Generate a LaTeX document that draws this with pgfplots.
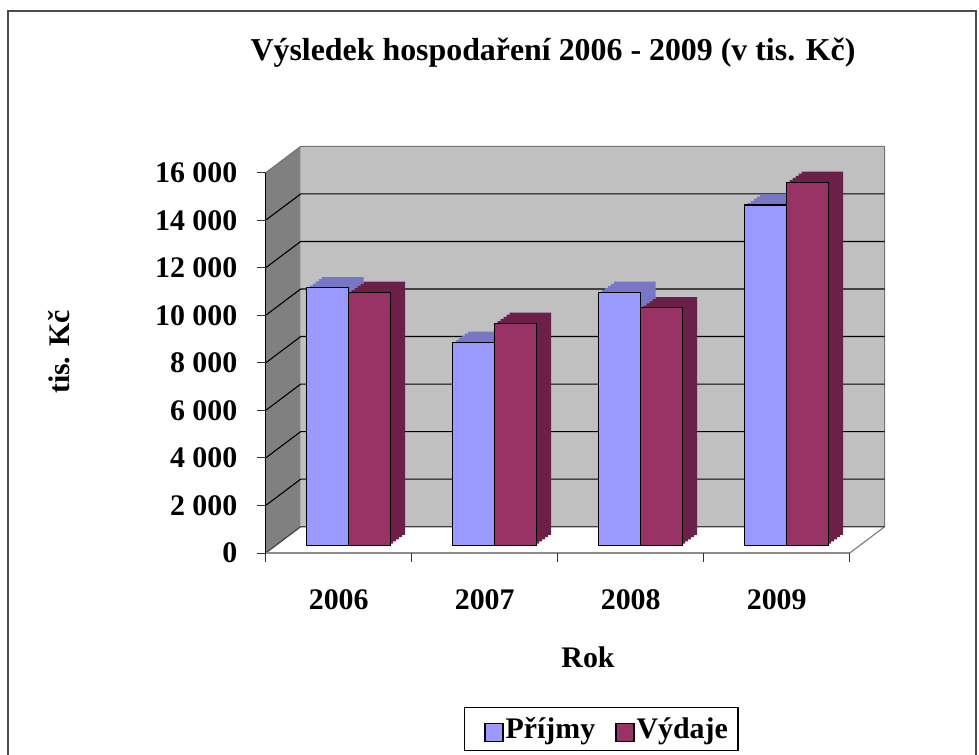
\documentclass[border=0pt]{standalone}
\usepackage{pgfplots}
\usepackage{pgfplotstable}
\pgfplotsset{compat=1.18}
\usepackage{fontspec}
\setmainfont{Liberation Serif}
\definecolor{prij}{HTML}{9999FF}
\definecolor{prijtop}{HTML}{7777C6}
\definecolor{vyd}{HTML}{993366}
\definecolor{vydtop}{HTML}{6C2047}
\definecolor{wall}{HTML}{C0C0C0}
\definecolor{sidewall}{HTML}{808080}
\tikzset{bk/.style={shift={(25.2bp,19bp)}}, fr/.style={shift={(-9.8bp,-7.3bp)}}}
\pgfplotstableread{
x P V
0 10850 10660
1 8560 9360
2 10660 10010
3 14330 15290
}\data
\begin{document}
\begin{tikzpicture}[x=1bp,y=1bp]
\useasboundingbox (0,0) rectangle (979,755);
\draw[line width=1.2bp, black!70] (8,-20) rectangle (976,744);
\node[anchor=base, font=\fontsize{32}{36}\selectfont\bfseries] at (553,694) {Výsledek hospodaření 2006 - 2009 (v tis. Kč)};
\node[anchor=base, font=\fontsize{30}{34}\selectfont\bfseries] at (588,87) {Rok};
\node[anchor=base, rotate=90, font=\fontsize{30}{34}\selectfont\bfseries] at (69,403) {tis. Kč};
\begin{scope}[shift={(275.5bp,209.3bp)}]
\begin{axis}[
  at={(0bp,0bp)}, anchor=south west,
  scale only axis, width=584bp, height=380.3bp,
  xmin=-0.5, xmax=3.5, ymin=0, ymax=16000,
  clip=false,
  axis line style={draw=none},
  major tick length=0pt,
  xtick={0,1,2,3}, xticklabels={2006,2007,2008,2009},
  ytick={0,2000,4000,6000,8000,10000,12000,14000,16000},
  scaled y ticks=false,
  /pgf/number format/1000 sep={\ },
  /pgf/number format/assume math mode=true,
  tick label style={font=\fontsize{30}{32}\selectfont\bfseries, inner sep=0pt},
  yticklabel style={anchor=east, xshift=-38bp, yshift=-7.3bp},
  xticklabel style={anchor=north, xshift=-9.8bp, yshift=-44bp},
  legend style={at={(0.5574,-0.4233)}, anchor=north, legend columns=2, draw=black, line width=1.3bp,
    font=\fontsize{30}{33}\selectfont\bfseries, inner xsep=8bp, inner ysep=8bp,
    /tikz/every even column/.append style={column sep=6bp}},
]
% side wall
\fill[sidewall] ([fr]axis cs:-0.5,0) -- ([bk]axis cs:-0.5,0) -- ([bk]axis cs:-0.5,16000) -- ([fr]axis cs:-0.5,16000) -- cycle;
% back wall
\fill[wall] ([bk]axis cs:-0.5,0) rectangle ([bk]axis cs:3.5,16000);
\draw[black!55, line width=1bp] ([fr]axis cs:-0.5,16000) -- ([bk]axis cs:-0.5,16000) -- ([bk]axis cs:3.5,16000) -- ([bk]axis cs:3.5,0);
% floor
\fill[white] ([fr]axis cs:-0.5,0) -- ([fr]axis cs:3.5,0) -- ([bk]axis cs:3.5,0) -- ([bk]axis cs:-0.5,0) -- cycle;
\draw[black!50, line width=1.2bp] ([fr]axis cs:3.5,0) -- ([bk]axis cs:3.5,0);
\draw[black!75, line width=1.2bp] ([fr]axis cs:-0.5,0) -- ([bk]axis cs:-0.5,0) -- ([bk]axis cs:3.5,0);
% gridlines
\pgfplotsinvokeforeach{2000,4000,6000,8000,10000,12000,14000}{
  \draw[black, line width=1.1bp] ([fr]axis cs:-0.5,#1) -- ([bk]axis cs:-0.5,#1) -- ([bk]axis cs:3.5,#1);
}
% front axes
\draw[black!45, line width=1.8bp] ([fr]axis cs:-0.5,0) -- ([fr]axis cs:3.5,0);
\pgfplotsinvokeforeach{-0.5,0.5,1.5,2.5,3.5}{
  \draw[black!80, line width=0.9bp] ([fr]axis cs:#1,0) -- ([fr,yshift=-9bp]axis cs:#1,0);
}
\draw[black, line width=1.5bp] ([fr]axis cs:-0.5,0) -- ([fr]axis cs:-0.5,16000);
\pgfplotsinvokeforeach{0,2000,4000,6000,8000,10000,12000,14000,16000}{
  \draw[black!80, line width=0.9bp] ([fr,xshift=-9bp]axis cs:-0.5,#1) -- ([fr]axis cs:-0.5,#1);
}
% Prijmy extrusion
\addplot[ybar, bar width=41.7bp, bar shift=-20.85bp, fill=prijtop, draw=none, xshift=3bp, yshift=2.14bp, forget plot] table[x=x,y=P]{\data};
\addplot[ybar, bar width=41.7bp, bar shift=-20.85bp, fill=prijtop, draw=none, xshift=6bp, yshift=4.28bp, forget plot] table[x=x,y=P]{\data};
\addplot[ybar, bar width=41.7bp, bar shift=-20.85bp, fill=prijtop, draw=none, xshift=9bp, yshift=6.42bp, forget plot] table[x=x,y=P]{\data};
\addplot[ybar, bar width=41.7bp, bar shift=-20.85bp, fill=prijtop, draw=none, xshift=12bp, yshift=8.56bp, forget plot] table[x=x,y=P]{\data};
\addplot[ybar, bar width=41.7bp, bar shift=-20.85bp, fill=prijtop, draw=none, xshift=15bp, yshift=10.7bp, forget plot] table[x=x,y=P]{\data};
% Prijmy front
\addplot[ybar, bar width=41.7bp, bar shift=-20.85bp, fill=prij, draw=black, line width=1.3bp,
  legend image code/.code={\path (0bp,0bp); \draw[fill=prij, draw=black, line width=1.5bp] (12bp,-13bp) rectangle (30bp,5bp);}] table[x=x,y=P]{\data};
\addlegendentry{Příjmy}
% Vydaje extrusion
\addplot[ybar, bar width=41.7bp, bar shift=20.85bp, fill=vydtop, draw=none, xshift=3bp, yshift=2.14bp, forget plot] table[x=x,y=V]{\data};
\addplot[ybar, bar width=41.7bp, bar shift=20.85bp, fill=vydtop, draw=none, xshift=6bp, yshift=4.28bp, forget plot] table[x=x,y=V]{\data};
\addplot[ybar, bar width=41.7bp, bar shift=20.85bp, fill=vydtop, draw=none, xshift=9bp, yshift=6.42bp, forget plot] table[x=x,y=V]{\data};
\addplot[ybar, bar width=41.7bp, bar shift=20.85bp, fill=vydtop, draw=none, xshift=12bp, yshift=8.56bp, forget plot] table[x=x,y=V]{\data};
\addplot[ybar, bar width=41.7bp, bar shift=20.85bp, fill=vydtop, draw=none, xshift=15bp, yshift=10.7bp, forget plot] table[x=x,y=V]{\data};
% Vydaje front
\addplot[ybar, bar width=41.7bp, bar shift=20.85bp, fill=vyd, draw=black, line width=1.3bp,
  legend image code/.code={\path (0bp,0bp); \draw[fill=vyd, draw=black, line width=1.5bp] (12bp,-13bp) rectangle (30bp,5bp);}] table[x=x,y=V]{\data};
\addlegendentry{Výdaje}
\end{axis}
\end{scope}
\end{tikzpicture}
\end{document}
